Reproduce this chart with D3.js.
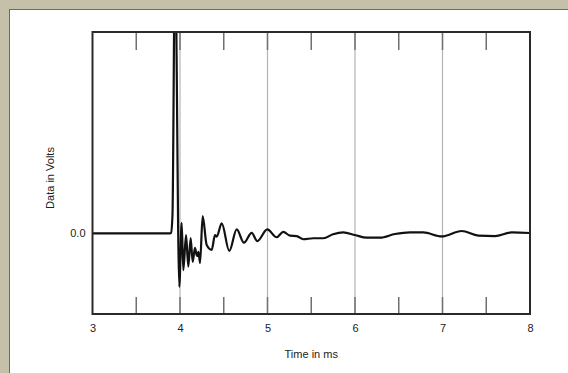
<!DOCTYPE html>
<html><head><meta charset="utf-8">
<script src="https://cdn.jsdelivr.net/npm/d3@7"></script>
<style>html,body{margin:0;padding:0;background:#c4c0aa;overflow:hidden}</style>
</head><body>
<svg id="chart" width="568" height="373"></svg>
<script>
const timeMs = [3.000,3.886,3.897,3.914,3.943,3.992,4.019,4.038,4.069,4.095,4.122,4.145,4.171,4.194,4.211,4.229,4.259,4.305,4.362,4.400,4.419,4.477,4.563,4.648,4.731,4.819,4.883,4.998,5.105,5.181,5.257,5.334,5.409,5.523,5.638,5.749,5.866,6.000,6.134,6.286,6.457,6.629,6.781,6.991,7.219,7.409,7.600,7.791,8.000];
const volts  = [0,0,0.002,0.09,1.4,-0.265,0.052,-0.182,-0.008,-0.165,-0.023,-0.141,-0.072,-0.112,-0.092,-0.147,0.086,-0.058,-0.082,-0.008,-0.016,0.050,-0.087,0.020,-0.046,0.003,-0.038,0.020,-0.019,0.008,-0.011,-0.013,-0.029,-0.024,-0.024,-0.004,0.005,-0.008,-0.021,-0.021,-0.003,0.005,0.005,-0.015,0.012,-0.011,-0.013,0.005,0.002];
const xTickLabels = ["3","4","5","6","7","8"];
const xMinorTicks = [3.5,4,4.5,5,5.5,6,6.5,7,7.5];
const gridLines = [4,5,6,7];
const yTickValues = [0];
const yTickLabels = ["0.0"];
const xTitle = "Time in ms";
const yTitle = "Data in Volts";

const svg = d3.select("#chart");
svg.append("rect").attr("x",9.5).attr("y",9.5).attr("width",600).attr("height",400)
  .attr("fill","#fff").attr("stroke","#6b6b60").attr("stroke-width",1);

const L=92.5,R=530,T=32,B=314;
const x = d3.scaleLinear().domain([3,8]).range([L,R]);
const y = d3.scaleLinear().domain([-0.4,1.0]).range([B,T]);

svg.append("g").selectAll("line").data(gridLines).join("line")
  .attr("x1",d=>x(d)).attr("x2",d=>x(d)).attr("y1",T).attr("y2",B)
  .attr("stroke","#b4b4b4").attr("stroke-width",1.2);

const tk = svg.append("g");
tk.selectAll("line.b").data(xMinorTicks).join("line").attr("class","b")
  .attr("x1",d=>x(d)).attr("x2",d=>x(d)).attr("y1",B).attr("y2",B-17)
  .attr("stroke","#707070").attr("stroke-width",1.5);
tk.selectAll("line.t").data(xMinorTicks).join("line").attr("class","t")
  .attr("x1",d=>x(d)).attr("x2",d=>x(d)).attr("y1",T).attr("y2",T+18)
  .attr("stroke","#707070").attr("stroke-width",1.5);

svg.append("clipPath").attr("id","clip").append("rect")
  .attr("x",L).attr("y",T).attr("width",R-L).attr("height",B-T);
const data = timeMs.map((t,i)=>[t,volts[i]]);
svg.append("path").datum(data)
  .attr("clip-path","url(#clip)")
  .attr("fill","none").attr("stroke","#111").attr("stroke-width",2.2)
  .attr("stroke-linejoin","round")
  .attr("d",d3.line().curve(d3.curveMonotoneX).x(d=>x(d[0])).y(d=>y(d[1])));

svg.append("rect").attr("x",L).attr("y",T).attr("width",R-L).attr("height",B-T)
  .attr("fill","none").attr("stroke","#2a2a2a").attr("stroke-width",2);

const xAxis = d3.axisBottom(x).tickValues(xTickLabels.map(Number))
  .tickFormat((d,i)=>xTickLabels[i]).tickSize(0).tickPadding(10);
const gx = svg.append("g").attr("transform",`translate(0,${B})`).call(xAxis);
gx.select(".domain").remove();
gx.selectAll("text").attr("font-family","Liberation Sans, Arial, sans-serif")
  .attr("font-size",11).attr("fill","#222");

const yAxis = d3.axisLeft(y).tickValues(yTickValues)
  .tickFormat((d,i)=>yTickLabels[i]).tickSize(0).tickPadding(7);
const gy = svg.append("g").attr("transform",`translate(${L},0)`).call(yAxis);
gy.select(".domain").remove();
gy.selectAll("text").attr("font-family","Liberation Sans, Arial, sans-serif")
  .attr("font-size",11).attr("fill","#222");

svg.append("text").attr("x",(L+R)/2).attr("y",358).attr("text-anchor","middle")
  .attr("font-family","Liberation Sans, Arial, sans-serif").attr("font-size",11).attr("fill","#222")
  .text(xTitle);
svg.append("text").attr("transform","translate(54,178) rotate(-90)").attr("text-anchor","middle")
  .attr("font-family","Liberation Sans, Arial, sans-serif").attr("font-size",11).attr("fill","#222")
  .text(yTitle);
</script>
</body></html>
